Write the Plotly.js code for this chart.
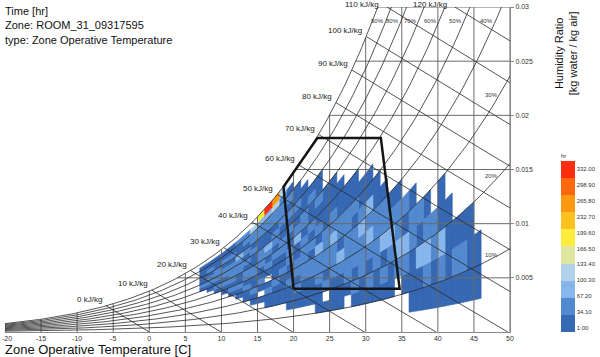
<!DOCTYPE html>
<html><head><meta charset="utf-8">
<script src="https://cdn.plot.ly/plotly-3.0.1.min.js"></script>
<style>html,body{margin:0;padding:0;background:#fff;}#chart{width:600px;height:357px;}</style>
</head><body><div id="chart"></div>
<script>
// ---------------- data ----------------
// temperature bins (lower edge, 1 C wide)
const tempBins = [7,8,9,10,11,12,13,14,15,16,17,18,19,20,21,22,23,24,25,26,27,28,29,30,31,32,33,34,35,36,37,38,39,40,41,42,43,44,45];
// relative humidity bins (lower edge, 5 % wide)
const rhLower = [5,10,15,20,25,30,35,40,45,50,55,60,65,70,75,80,85,90,95];
// hours per cell: one row per temperature bin, one column per RH bin
const hours = [
 [0,0,0,0,0,0,0,0,0,0,0,12,40,25,20,15,22,10,0],
 [0,0,0,0,0,0,0,0,0,0,10,20,48,40,30,55,20,12,0],
 [0,0,0,0,0,0,0,0,0,8,45,30,45,38,60,25,22,15,0],
 [0,0,0,0,0,0,0,0,10,20,55,28,50,42,30,65,28,20,0],
 [0,0,0,0,0,0,0,12,40,25,35,60,55,40,30,45,30,25,0],
 [0,0,0,0,0,0,10,15,45,30,28,45,60,35,70,30,30,35,0],
 [0,0,0,0,0,8,12,40,28,35,60,25,50,30,45,30,35,45,0],
 [0,0,0,0,6,10,35,22,30,55,45,30,25,60,28,40,60,110,0],
 [0,0,0,0,5,0,12,45,25,30,65,35,50,30,25,35,60,90,185],
 [0,0,0,5,10,40,20,0,28,50,25,35,70,25,30,40,55,85,315],
 [0,0,0,4,8,12,45,25,30,28,55,30,35,60,30,35,50,110,245],
 [0,0,0,5,30,15,20,50,25,30,35,65,30,25,45,35,40,60,120],
 [0,0,5,10,18,40,30,22,48,35,30,25,45,28,35,30,40,25,0],
 [0,0,6,12,45,28,55,45,30,28,75,40,30,25,45,28,20,0,0],
 [0,0,8,15,22,50,40,55,35,60,28,35,50,25,22,15,0,0,0],
 [0,0,7,30,25,35,60,28,45,30,55,30,28,40,18,0,0,0,0],
 [0,4,10,18,50,40,35,75,28,50,32,30,45,20,12,0,0,0,0],
 [0,5,0,40,30,55,55,40,60,28,30,25,15,0,0,0,0,0,0],
 [0,6,12,22,60,45,40,70,35,55,28,20,10,0,0,0,0,0,0],
 [0,5,30,25,35,80,30,50,50,30,25,15,0,0,0,0,0,0,0],
 [0,0,14,50,35,45,60,40,55,28,18,0,0,0,0,0,0,0,0],
 [0,6,35,30,65,35,45,30,35,25,12,0,0,0,0,0,0,0,0],
 [0,5,18,55,38,50,70,35,30,20,0,0,0,0,0,0,0,0,0],
 [0,6,40,30,45,85,35,80,28,15,0,0,0,0,0,0,0,0,0],
 [0,5,15,60,40,35,45,30,20,0,0,0,0,0,0,0,0,0,0],
 [0,4,45,28,75,50,38,25,0,0,0,0,0,0,0,0,0,0,0],
 [0,5,15,50,80,40,30,0,0,0,0,0,0,0,0,0,0,0,0],
 [0,0,40,70,35,55,28,0,0,0,0,0,0,0,0,0,0,0,0],
 [0,4,55,85,28,35,0,0,0,0,0,0,0,0,0,0,0,0,0],
 [3,6,12,60,45,28,0,0,0,0,0,0,0,0,0,0,0,0,0],
 [4,30,75,28,35,0,0,0,0,0,0,0,0,0,0,0,0,0,0],
 [5,40,85,50,25,0,0,0,0,0,0,0,0,0,0,0,0,0,0],
 [5,12,55,35,0,0,0,0,0,0,0,0,0,0,0,0,0,0,0],
 [6,45,80,30,15,0,0,0,0,0,0,0,0,0,0,0,0,0,0],
 [6,15,28,25,0,0,0,0,0,0,0,0,0,0,0,0,0,0,0],
 [7,40,22,0,0,0,0,0,0,0,0,0,0,0,0,0,0,0,0],
 [6,55,20,0,0,0,0,0,0,0,0,0,0,0,0,0,0,0,0],
 [5,12,18,0,0,0,0,0,0,0,0,0,0,0,0,0,0,0,0],
 [4,10,0,0,0,0,0,0,0,0,0,0,0,0,0,0,0,0,0]
];
const bandEdges = [1.00,34.10,67.20,100.30,133.40,166.50,199.60,232.70,265.80,298.90,332.00];
const bandColors = ['#3668b3','#5389cf','#86b6eb','#b2d2ec','#dde7a0','#ffec3c','#ffc11e','#ff9912','#ff680e','#ff2e0c'];
const rhCurves = [10,20,30,40,50,60,70,80,90,100];
const rhTopLabels = [40,50,60,70,80,90];
const rhSideLabels = [10,20,30];
const enthalpies = [0,10,20,30,40,50,60,70,80,90,100,110,120];
const tempGrid = [-20,-15,-10,-5,0,5,10,15,20,25,30,35,40,45,50];
const wGrid = [0.005,0.01,0.015,0.02,0.025,0.03];
const comfortT = [20, 18.6, 23.3, 32.1, 34.7, 20];
const comfortW = [0.0040, 0.0134, 0.0179, 0.0179, 0.0040, 0.0040];

// ---------------- psychrometrics ----------------
const P = 101.325, TMIN = -20, TMAX = 50, WMAX = 0.03;
function psat(T){ return 0.61094*Math.exp(17.625*T/(T+243.04)); }
function wOf(T, rh){ const pv = Math.min(rh,100)/100*psat(T); return 0.622*pv/(P-pv); }
function hOf(T, W){ return 1.006*T + W*(2501+1.86*T); }
function bisect(f, lo, hi){ for(let i=0;i<80;i++){ const m=(lo+hi)/2; if(f(m)<0) lo=m; else hi=m; } return (lo+hi)/2; }
function tDew(W){ return bisect(t=>wOf(t,100)-W, -60, 80); }
function tRH(rh, W){ return bisect(t=>wOf(t,rh)-W, -60, 120); }

const font = 'Liberation Sans, Arial, sans-serif';
const traces = [];

// cells grouped by colour band
const bandX = bandColors.map(()=>[]), bandY = bandColors.map(()=>[]);
tempBins.forEach((t0, i)=>{
  rhLower.forEach((r0, j)=>{
    const v = hours[i][j];
    if(!v) return;
    let b = 0; while(b < 9 && v > bandEdges[b+1]) b++;
    const r1 = r0 + 5, ts = [t0, t0+0.5, t0+1];
    const xs = [], ys = [];
    ts.forEach(t=>{ xs.push(t); ys.push(wOf(t, r0)); });
    ts.slice().reverse().forEach(t=>{ xs.push(t); ys.push(wOf(t, r1)); });
    xs.push(t0); ys.push(wOf(t0, r0));
    bandX[b].push(...xs, null); bandY[b].push(...ys, null);
  });
});
bandColors.forEach((c,b)=>{
  if(!bandX[b].length) return;
  traces.push({type:'scatter', mode:'lines', x:bandX[b], y:bandY[b], fill:'toself',
    fillcolor:c, line:{color:c, width:0.6}, hoverinfo:'skip', showlegend:false});
});

// vertical temperature lines
{ const x=[], y=[];
  tempGrid.forEach(t=>{ x.push(t,t,null); y.push(0, Math.min(wOf(t,100), WMAX), null); });
  traces.push({type:'scatter', mode:'lines', x, y, line:{color:'#6a6a6a', width:1}, hoverinfo:'skip', showlegend:false}); }
// horizontal humidity-ratio lines
{ const x=[], y=[];
  wGrid.forEach(w=>{ x.push(tDew(w), TMAX, null); y.push(w, w, null); });
  traces.push({type:'scatter', mode:'lines', x, y, line:{color:'#6a6a6a', width:1}, hoverinfo:'skip', showlegend:false}); }
// relative humidity curves
{ const x=[], y=[];
  rhCurves.forEach(rh=>{
    const tEnd = Math.min(TMAX, tRH(rh, WMAX));
    for(let k=0;k<=140;k++){ const t = TMIN + (tEnd-TMIN)*k/140; x.push(t); y.push(wOf(t,rh)); }
    x.push(null); y.push(null);
  });
  traces.push({type:'scatter', mode:'lines', x, y, line:{color:'#2a2a2a', width:0.8}, hoverinfo:'skip', showlegend:false}); }
// enthalpy lines
const hStart = {};
{ const x=[], y=[];
  enthalpies.forEach(h=>{
    const ts = bisect(t=>hOf(t, Math.min(wOf(t,100), WMAX))-h, -40, 80);
    hStart[h] = [ts, Math.min(wOf(ts,100), WMAX)];
    const te = Math.min(TMAX, h/1.006);
    for(let k=0;k<=30;k++){ const t = ts + (te-ts)*k/30; x.push(t); y.push(Math.max(0,(h-1.006*t)/(2501+1.86*t))); }
    x.push(null); y.push(null);
  });
  traces.push({type:'scatter', mode:'lines', x, y, line:{color:'#2a2a2a', width:0.8}, hoverinfo:'skip', showlegend:false}); }
// comfort polygon
traces.push({type:'scatter', mode:'lines', x:comfortT, y:comfortW, line:{color:'#151515', width:2.5}, hoverinfo:'skip', showlegend:false});

// colour bar carrier
const cscale = [];
bandColors.forEach((c,b)=>{ cscale.push([b/10, c]); cscale.push([(b+1)/10, c]); });
traces.push({type:'scatter', mode:'markers', x:[-100], y:[-1], hoverinfo:'skip', showlegend:false,
  marker:{size:1, color:[100], cmin:-7.3, cmax:348.5, colorscale:cscale, showscale:true,
    colorbar:{x:1.101, xanchor:'left', y:0, yanchor:'bottom', len:0.56, lenmode:'fraction', thickness:14,
      xpad:0, ypad:0, outlinewidth:0, ticks:'', tickvals:bandEdges, ticktext:bandEdges.map(v=>v.toFixed(2)),
      tickfont:{family:font, size:6, color:'#333'}, title:{text:'hr', side:'top', font:{family:font, size:6, color:'#333'}}}}});

// annotations
const ann = [];
enthalpies.forEach(h=>{
  const [t,w] = hStart[h];
  const atTop = w >= WMAX - 1e-9;
  ann.push({x:t, y:w, xref:'x', yref:'y', text:h+' kJ/kg', showarrow:false, xanchor:'right',
    yanchor: atTop ? 'middle' : 'bottom', xshift: atTop ? -6 : -2, yshift: atTop ? 3 : 0,
    font:{family:font, size:8, color:'#222'}});
});
rhTopLabels.forEach(rh=>{
  const w = 0.0287;
  ann.push({x:tRH(rh,w), y:w, xref:'x', yref:'y', text:rh+'%', showarrow:false, xanchor:'right', yanchor:'middle',
    font:{family:font, size:6, color:'#333'}});
});
rhSideLabels.forEach(rh=>{
  ann.push({x:47.4, y:wOf(48.5,rh), xref:'x', yref:'y', text:rh+'%', showarrow:false, xanchor:'center', yanchor:'middle',
    font:{family:font, size:6, color:'#333'}});
});
// first x tick label (would be clipped at the page edge otherwise)
ann.push({x:tempGrid[0], y:0, xref:'x', yref:'paper', text:String(tempGrid[0]), showarrow:false, xanchor:'left',
  yanchor:'top', xshift:-5, yshift:-1, font:{family:font, size:7, color:'#333'}});
ann.push({x:0, y:1.012, xref:'paper', yref:'paper', xanchor:'left', yanchor:'top', xshift:-2, align:'left', showarrow:false,
  text:'Time [hr]<br>Zone: ROOM_31_09317595<br>type: Zone Operative Temperature', font:{family:font, size:11, color:'#111'}});
ann.push({x:0, y:-0.055, xref:'paper', yref:'paper', xanchor:'left', yanchor:'middle', xshift:-2, showarrow:false,
  text:'Zone Operative Temperature [C]', font:{family:font, size:13, color:'#111'}});
ann.push({x:1.111, y:0.858, xref:'paper', yref:'paper', xanchor:'center', yanchor:'middle', textangle:-90, showarrow:false,
  text:'Humidity Ratio<br>[kg water / kg air]', font:{family:font, size:11, color:'#111'}});

const layout = {
  width:600, height:357, margin:{l:5, r:90, t:7, b:25}, paper_bgcolor:'#fff', plot_bgcolor:'#fff',
  showlegend:false, font:{family:font},
  xaxis:{range:[TMIN,TMAX], tickvals:tempGrid.slice(1), ticktext:tempGrid.slice(1).map(String), showgrid:false, zeroline:false,
    showline:true, linecolor:'#8a8a8a', linewidth:1, ticks:'', tickfont:{family:font, size:7, color:'#333'}, fixedrange:true},
  yaxis:{range:[0,WMAX], side:'right', tickvals:wGrid, ticktext:['0.005','0.01','0.015','0.02','0.025','0.03'], showgrid:false,
    zeroline:false, showline:true, linecolor:'#8a8a8a', linewidth:1, ticks:'outside', ticklen:3, tickcolor:'#8a8a8a',
    tickfont:{family:font, size:7, color:'#333'}, fixedrange:true},
  annotations: ann
};
Plotly.newPlot('chart', traces, layout, {staticPlot:true});
</script></body></html>
